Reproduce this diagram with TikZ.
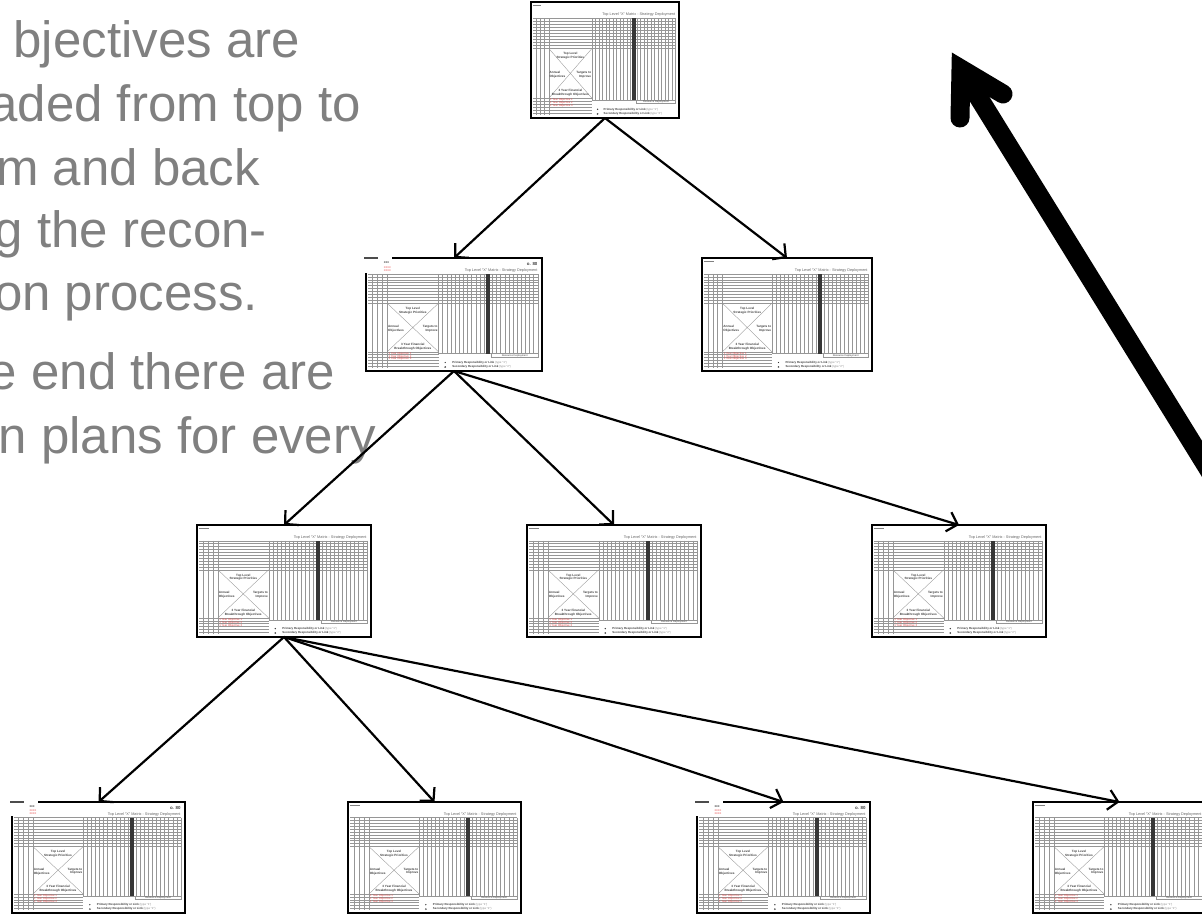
\documentclass[tikz,border=0pt]{standalone}
\usepackage{fontspec}
\setmainfont{Liberation Sans}
\usetikzlibrary{arrows.meta}

\definecolor{bodygray}{RGB}{128,128,128}
\definecolor{gridgray}{RGB}{150,150,150}
\definecolor{bargray}{RGB}{55,55,55}
\definecolor{objred}{RGB}{232,70,70}

\tikzset{
  sheet/.style={draw=black, line width=2.8pt, fill=white, inner sep=0pt, outer sep=0pt, anchor=north west},
  grid line/.style={draw=gridgray, line width=0.35pt},
  bigtext/.style={text=bodygray, font=\fontsize{51}{60}\selectfont, inner sep=0pt, anchor=base east},
  tinytext/.style={inner sep=0pt, font=\fontsize{3.2}{3.6}\selectfont, text=black!75},
  link/.style={draw=black, line width=2.2pt, -{Straight Barb[length=9.5pt,width=20pt]}},
  bigshaft/.style={draw=black, line width=19pt, line cap=butt},
  bighead/.style={draw=black, line width=19pt, line cap=round, line join=miter},
}

% One "X" matrix sheet: name, left, top, right, bottom, header flag
\newcommand\matrixsheet[6]{%
  \pgfmathsetmacro\sw{#4-#2}%
  \pgfmathsetmacro\sh{#5-#3}%
  \node[sheet, minimum width=\sw pt, minimum height=\sh pt] (#1) at (#2,#3) {};
  \begin{scope}[shift={(#2,#3)}, x={(\sw pt,0pt)}, y={(0pt,-\sh pt)}]
    % title
    \node[tinytext, anchor=base east, text=black!60, font=\fontsize{3.8}{4.2}\selectfont] (#1-title) at (0.975,0.118)
      {Top Level ``X'' Matrix - Strategy Deployment};
    % horizontal rows of the upper area
    \foreach \k in {0,...,10}
      \draw[grid line] (0.013,{0.14+0.026*\k}) -- (0.977,{0.14+0.026*\k});
    % left hand columns
    \foreach \xx in {0.035,0.063,0.091,0.12}
      \draw[grid line] (\xx,0.14) -- (\xx,0.975);
    % right hand columns
    \foreach \k in {0,...,24}
      \draw[grid line] ({0.412+0.0235*\k},0.14) -- ({0.412+0.0235*\k},0.846);
    % lower left rows
    \foreach \k in {0,...,5}
      \draw[grid line] (0.013,{0.83+0.025*\k}) -- (0.412,{0.83+0.025*\k});
    \draw[grid line] (0.412,0.846) -- (0.977,0.846);
    % the X
    \draw[grid line] (0.12,0.40) rectangle (0.412,0.83);
    \draw[grid line] (0.12,0.40) -- (0.412,0.83) (0.412,0.40) -- (0.12,0.83);
    % dark column
    \fill[bargray] (0.682,0.14) rectangle (0.707,0.846);
    % resource deployment cell
    \draw[grid line] (0.712,0.846) rectangle (0.977,0.875);
    \node[tinytext, font=\fontsize{2.6}{3}\selectfont] (#1-res) at (0.845,0.862) {Resource Deployment};
    % labels of the X
    \node[tinytext, align=center, font=\bfseries\fontsize{3.1}{3.7}\selectfont] (#1-top) at (0.266,0.465)
      {Top Level\\Strategic Priorities};
    \node[tinytext, align=left, anchor=west, font=\bfseries\fontsize{3.1}{3.7}\selectfont] (#1-ann) at (0.125,0.625)
      {Annual\\Objectives};
    \node[tinytext, align=right, anchor=east, font=\bfseries\fontsize{3.1}{3.7}\selectfont] (#1-tgt) at (0.408,0.625)
      {Targets to\\Improve};
    \node[tinytext, align=center, font=\bfseries\fontsize{3.1}{3.7}\selectfont] (#1-fin) at (0.266,0.783)
      {3 Year Financial\\Breakthrough Objectives};
    % yearly objectives
    \foreach \k in {1,2,3}
      \node[tinytext, anchor=west, text=objred, font=\fontsize{2.8}{3.2}\selectfont] at (0.127,{0.818+0.026*\k})
        {1 Year Objective \k};
    % legend
    \fill[black!80] (0.45,0.925) circle (0.7pt);
    \draw[black!80, line width=0.3pt] (0.45,0.965) circle (0.7pt);
    \node[tinytext, anchor=west, font=\bfseries\fontsize{2.9}{3.2}\selectfont] (#1-prim) at (0.49,0.925)
      {Primary Responsibility or Link \textmd{\color{black!45}(type ``1'')}};
    \node[tinytext, anchor=west, font=\bfseries\fontsize{2.9}{3.2}\selectfont] (#1-sec) at (0.49,0.965)
      {Secondary Responsibility or Link \textmd{\color{black!45}(type ``2'')}};
    \ifnum#6=1
      % heading block over the top left corner
      \fill[white] (-0.03,-0.03) rectangle (0.15,0.13);
      \draw[black!70, line width=1.1pt] (-0.01,0.0) -- (0.07,0.0);
      \node[tinytext, anchor=west, font=\bfseries\fontsize{2.6}{3}\selectfont] at (0.1,0.045) {XXX};
      \node[tinytext, anchor=west, text=objred, font=\fontsize{2.6}{3}\selectfont, align=left] at (0.1,0.095) {XXXX\\XXXX};
      \node[tinytext, anchor=east, font=\bfseries\fontsize{4.4}{5}\selectfont] at (0.975,0.055) {o. 80};
    \else
      \draw[black!50, line width=0.5pt] (0.012,0.025) -- (0.07,0.025);
    \fi
  \end{scope}
}

\begin{document}
\begin{tikzpicture}[x=1pt,y=-1pt]
\useasboundingbox (0,0) rectangle (1202,914);
\clip (0,0) rectangle (1202,914);

% explanatory text
\node[bigtext] (t1) at (300,57)  {bjectives are};
\node[bigtext] (t2) at (361,121) {aded from top to};
\node[bigtext] (t3) at (260,185) {m and back};
\node[bigtext] (t4) at (267,247) {g the recon-};
\node[bigtext] (t5) at (258,310) {on process.};
\node[bigtext] (t6) at (335,389) {e end there are};
\node[bigtext] (t7) at (376,453) {n plans for every};

% deployment sheets
\matrixsheet{top}{531}{2}{679}{118}{0}
\matrixsheet{lba}{366}{258}{542}{371}{1}
\matrixsheet{lbb}{702}{258}{872}{371}{0}
\matrixsheet{lca}{197}{525}{371}{637}{0}
\matrixsheet{lcb}{527}{525}{701}{637}{0}
\matrixsheet{lcc}{872}{525}{1046}{637}{0}
\matrixsheet{lda}{12}{802}{185}{913}{1}
\matrixsheet{ldb}{348}{802}{521}{913}{0}
\matrixsheet{ldc}{697}{802}{870}{913}{1}
\matrixsheet{ldd}{1033}{802}{1206}{913}{0}

% cascade
\draw[link] (top.south) -- (lba.north);
\draw[link] (top.south) -- (lbb.north);
\draw[link] (lba.south) -- (lca.north);
\draw[link] (lba.south) -- (lcb.north);
\draw[link] (lba.south) -- (lcc.north);
\draw[link] (lca.south) -- (lda.north);
\draw[link] (lca.south) -- (ldb.north);
\draw[link] (lca.south) -- (ldc.north);
\draw[link] (lca.south) -- (ldd.north);

% feedback arrow back to the top
\coordinate (fbtail) at (1267,564);
\coordinate (fbhead) at (961,69);
\coordinate (fbarmA) at (960,118);
\coordinate (fbarmB) at (1003,94);
\draw[bigshaft] (fbtail) -- (fbhead);
\draw[bighead] (fbarmA) -- (fbhead) -- (fbarmB);
\end{tikzpicture}
\end{document}
